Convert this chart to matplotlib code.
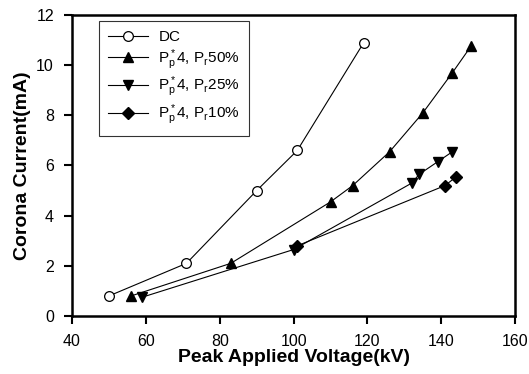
import matplotlib
matplotlib.use("Agg")
import matplotlib.pyplot as plt

plt.rcParams['font.family'] = ['Liberation Sans', 'DejaVu Sans']
plt.rcParams['mathtext.fontset'] = 'custom'
plt.rcParams['mathtext.rm'] = 'Liberation Sans'
plt.rcParams['mathtext.it'] = 'Liberation Sans'

# data
dc_v = [50, 71, 90, 101, 119]
dc_i = [0.8, 2.1, 5.0, 6.6, 10.9]

p50_v = [56, 83, 110, 116, 126, 135, 143, 148]
p50_i = [0.8, 2.1, 4.55, 5.2, 6.55, 8.1, 9.7, 10.75]

p25_v = [59, 100, 132, 134, 139, 143]
p25_i = [0.75, 2.65, 5.3, 5.65, 6.15, 6.55]

p10_v = [101, 141, 144]
p10_i = [2.8, 5.2, 5.55]

fig = plt.figure(figsize=(5.29, 3.74), dpi=100)
ax = fig.add_axes([0.136, 0.155, 0.838, 0.805])

ax.plot(dc_v, dc_i, '-o', color='black', lw=0.8, ms=7, mfc='white', mec='black', mew=0.9, label='DC')
ax.plot(p50_v, p50_i, '-^', color='black', lw=0.8, ms=7, label=r'P$^*_p$4, P$_r$50%')
ax.plot(p25_v, p25_i, '-v', color='black', lw=0.8, ms=7, label=r'P$^*_p$4, P$_r$25%')
ax.plot(p10_v, p10_i, '-D', color='black', lw=0.8, ms=6, label=r'P$^*_p$4, P$_r$10%')

ax.set_xlim(40, 160)
ax.set_ylim(0, 12)
ax.set_xticks([40, 60, 80, 100, 120, 140, 160])
ax.set_yticks([0, 2, 4, 6, 8, 10, 12])
ax.tick_params(direction='out', length=6, width=1.5, labelsize=11.5, pad=7, top=False, right=False)
for s in ax.spines.values():
    s.set_linewidth(1.8)

ax.set_xlabel('Peak Applied Voltage(kV)', fontsize=14, fontweight='bold', labelpad=0)
ax.set_ylabel('Corona Current(mA)', fontsize=14, fontweight='bold', labelpad=4)

leg = ax.legend(loc='upper left', bbox_to_anchor=(0.05, 0.995), fontsize=11, frameon=True,
                fancybox=False, edgecolor='black', handlelength=2.6, handletextpad=0.7,
                borderpad=0.6, labelspacing=0.2, borderaxespad=0.3)
leg.get_frame().set_linewidth(0.8)

fig.savefig('out.png', dpi=100)
